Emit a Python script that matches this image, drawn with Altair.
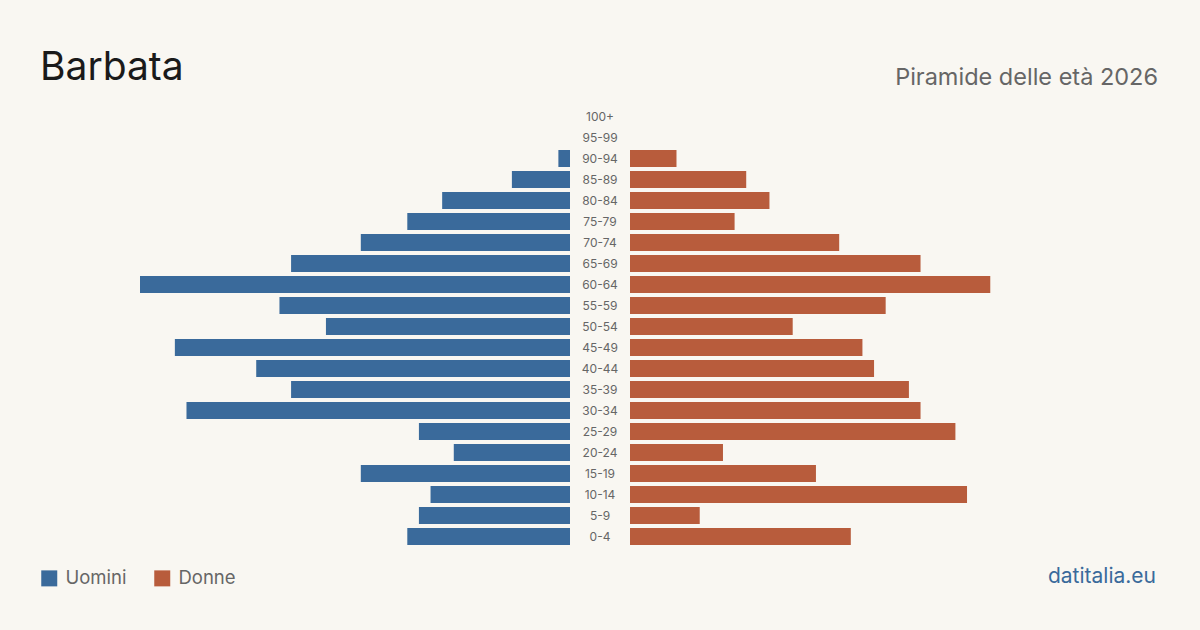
import altair as alt
import pandas as pd

ages = ["100+", "95-99", "90-94", "85-89", "80-84", "75-79", "70-74", "65-69",
        "60-64", "55-59", "50-54", "45-49", "40-44", "35-39", "30-34", "25-29",
        "20-24", "15-19", "10-14", "5-9", "0-4"]
men = [0, 0, 1, 5, 11, 14, 18, 24, 37, 25, 21, 34, 27, 24, 33, 13, 10, 18, 12, 13, 14]
women = [0, 0, 4, 10, 12, 9, 18, 25, 31, 22, 14, 20, 21, 24, 25, 28, 8, 16, 29, 6, 19]

BLUE = "#3a6a9b"
ORANGE = "#b85c3c"
BG = "#f9f7f2"
FONT = "Inter"

men_df = pd.DataFrame({"age": ages, "sex": "Uomini",
                       "start": [-v for v in men], "end": [0] * len(men), "val": men})
women_df = pd.DataFrame({"age": ages, "sex": "Donne",
                         "start": [0] * len(women), "end": women, "val": women})
men_df = men_df[men_df.val > 0]
women_df = women_df[women_df.val > 0]

half = 600 / (430 / 37)
xscale = alt.Scale(domain=[-half, half], nice=False, zero=False)
yscale = alt.Scale(domain=ages, paddingInner=0.19, paddingOuter=0.095)
color = alt.Color("sex:N",
                  scale=alt.Scale(domain=["Uomini", "Donne"], range=[BLUE, ORANGE]),
                  legend=alt.Legend(title=None, orient="none", legendX=40, legendY=463,
                                    direction="horizontal", symbolType="square",
                                    symbolSize=256, symbolStrokeWidth=0,
                                    labelFont=FONT, labelFontSize=18.5, labelColor="#666666",
                                    columnPadding=26, labelOffset=7, symbolOpacity=1))

enc = dict(x=alt.X("start:Q", scale=xscale, axis=None),
           x2="end:Q",
           y=alt.Y("age:N", scale=yscale, axis=None, sort=ages),
           color=color)

men_bars = alt.Chart(men_df).mark_bar(xOffset=-30, x2Offset=-30).encode(**enc)
women_bars = alt.Chart(women_df).mark_bar(xOffset=30, x2Offset=30).encode(**enc)

labels = alt.Chart(pd.DataFrame({"age": ages})).mark_text(
    font=FONT, fontSize=12, color="#666666", align="center", baseline="middle"
).encode(x=alt.value(600), y=alt.Y("age:N", scale=yscale, axis=None, sort=ages), text="age:N")

title = alt.Chart(pd.DataFrame({"t": ["Barbata"]})).mark_text(
    font=FONT, fontSize=39, color="#1a1a1a", align="left", baseline="alphabetic"
).encode(x=alt.value(40), y=alt.value(-26), text="t:N")

subtitle = alt.Chart(pd.DataFrame({"t": ["Piramide delle età 2026"]})).mark_text(
    font=FONT, fontSize=23.5, color="#666666", align="right", baseline="alphabetic"
).encode(x=alt.value(1158), y=alt.value(-21), text="t:N")

source = alt.Chart(pd.DataFrame({"t": ["datitalia.eu"]})).mark_text(
    font=FONT, fontSize=21, color=BLUE, align="right", baseline="alphabetic"
).encode(x=alt.value(1156), y=alt.value(477), text="t:N")

chart = alt.layer(men_bars, women_bars, labels, title, subtitle, source).properties(
    width=1200, height=441,
    autosize=alt.AutoSizeParams(type="none"),
    padding={"left": 0, "right": 0, "top": 106, "bottom": 83},
    background=BG,
).configure_view(stroke=None)

chart.save("out.html", embed_options={"renderer": "svg", "actions": False})
